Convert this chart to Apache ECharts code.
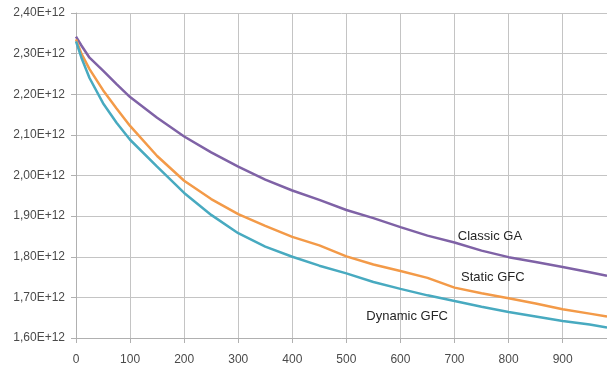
<!DOCTYPE html>
<html>
<head>
<meta charset="utf-8">
<script src="https://cdn.jsdelivr.net/npm/echarts@6/dist/echarts.min.js"></script>
<style>
html,body{margin:0;padding:0;background:#fff;}
#c{width:607px;height:367px;}
</style>
</head>
<body>
<div id="c"></div>
<script>
const xValues = [0, 10, 25, 50, 75, 100, 150, 200, 250, 300, 350, 400, 450, 500, 550, 600, 650, 700, 750, 800, 850, 900, 950, 982];
const classicGA = [2.342, 2.32, 2.29, 2.258, 2.225, 2.193, 2.142, 2.096, 2.057, 2.022, 1.99, 1.963, 1.94, 1.915, 1.895, 1.873, 1.852, 1.835, 1.815, 1.799, 1.787, 1.775, 1.762, 1.753];
const staticGFC = [2.335, 2.30, 2.262, 2.21, 2.165, 2.122, 2.048, 1.987, 1.942, 1.905, 1.876, 1.849, 1.828, 1.801, 1.781, 1.765, 1.748, 1.724, 1.71, 1.698, 1.685, 1.671, 1.66, 1.653];
const dynamicGFC = [2.33, 2.29, 2.24, 2.178, 2.13, 2.088, 2.022, 1.957, 1.903, 1.858, 1.825, 1.80, 1.778, 1.759, 1.738, 1.721, 1.705, 1.691, 1.677, 1.664, 1.653, 1.642, 1.633, 1.626];
const seriesNames = ['Classic GA', 'Static GFC', 'Dynamic GFC'];
const seriesColors = ['#7F62A6', '#F39A48', '#48AAC0'];
const labelPositions = [[706, 1.851e12], [712, 1.749e12], [537, 1.652e12]];
const scale = 1e12;

const allData = [classicGA, staticGFC, dynamicGFC];
const chart = echarts.init(document.getElementById('c'), null, {renderer: 'canvas'});
const series = allData.map((arr, i) => ({
  name: seriesNames[i],
  type: 'line',
  data: xValues.map((x, j) => [x, arr[j] * scale]),
  showSymbol: false,
  symbol: 'none',
  lineStyle: {width: 2.5, color: seriesColors[i]},
  itemStyle: {color: seriesColors[i]},
  z: 3 + i,
  markPoint: {
    symbol: 'circle',
    symbolSize: 0,
    silent: true,
    data: [{
      coord: labelPositions[i],
      label: {
        show: true,
        formatter: seriesNames[i],
        position: 'right',
        distance: 0,
        color: '#262626',
        fontFamily: 'Liberation Sans',
        fontSize: 13
      }
    }]
  }
}));

chart.setOption({
  animation: false,
  backgroundColor: '#fff',
  grid: {left: 76, right: 0, top: 13, bottom: 29},
  xAxis: {
    type: 'value',
    min: 0,
    max: 982,
    interval: 100,
    axisLine: {show: true, lineStyle: {color: '#b0b0b0'}},
    axisTick: {show: true, length: 5, lineStyle: {color: '#b0b0b0'}},
    splitLine: {show: true, lineStyle: {color: '#c4c4c4', width: 1}},
    axisLabel: {
      showMaxLabel: false,
      margin: 16,
      color: '#4a4a4a',
      fontFamily: 'Liberation Sans',
      fontSize: 12,
      formatter: v => (v % 100 === 0 ? String(v) : '')
    }
  },
  yAxis: {
    type: 'value',
    min: 1.6e12,
    max: 2.4e12,
    interval: 0.1e12,
    axisLine: {show: true, lineStyle: {color: '#b0b0b0'}},
    axisTick: {show: true, length: 5, lineStyle: {color: '#b0b0b0'}},
    splitLine: {show: true, lineStyle: {color: '#c4c4c4', width: 1}},
    axisLabel: {
      margin: 11,
      color: '#4a4a4a',
      fontFamily: 'Liberation Sans',
      fontSize: 12,
      formatter: v => (v / scale).toFixed(2).replace('.', ',') + 'E+12'
    }
  },
  series: series
});
</script>
</body>
</html>
